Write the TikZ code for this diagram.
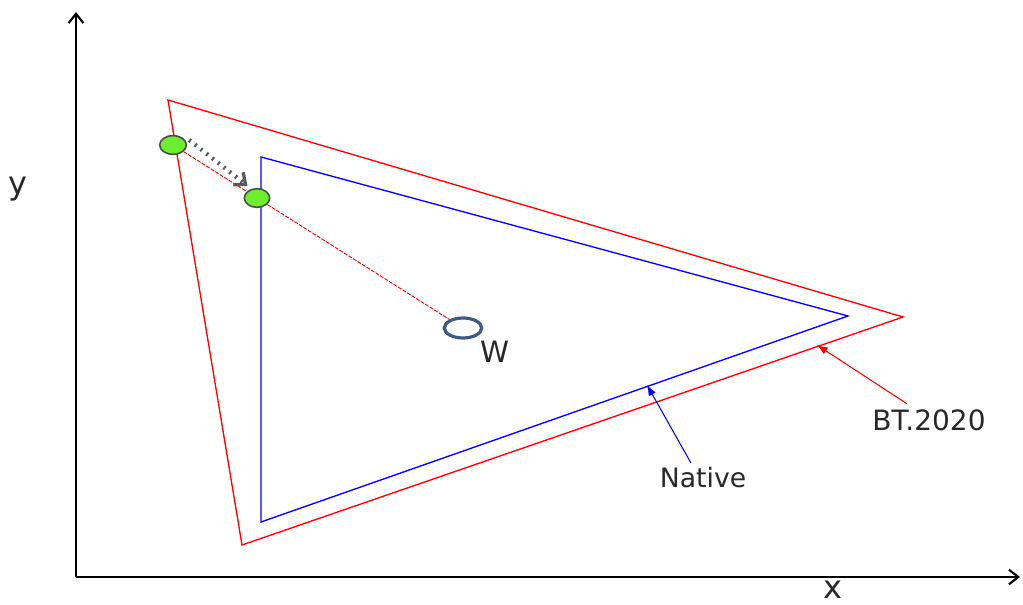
\documentclass[tikz,border=0pt]{standalone}
\usepackage{fontspec}
\setmainfont{DejaVu Sans}
\usetikzlibrary{arrows.meta}
\definecolor{dotgreen}{RGB}{108,238,46}
\definecolor{wblue}{RGB}{60,90,130}
\definecolor{labelgray}{RGB}{40,40,40}
\tikzset{
    axis/.style={line width=2.2pt, -{Straight Barb[length=7pt,width=11pt,line width=1.6pt]}},
    gamutred/.style={red, line width=1pt},
    gamutblue/.style={blue, line width=1pt},
    primdot/.style={ellipse, draw=gray!60!black, line width=1.2pt, fill=dotgreen, minimum width=20pt, minimum height=14pt, inner sep=0pt},
    lbl/.style={text=labelgray, font=\fontsize{20}{23}\selectfont, inner sep=1pt},
    pointer/.style={line width=0.8pt, -{Latex[length=8pt,width=6pt]}}
}
\usetikzlibrary{shapes.geometric}
\begin{document}
\begin{tikzpicture}[x=0.75pt, y=-0.75pt]
    \useasboundingbox (0,0) rectangle (1023,605);
    % Axes
    \coordinate (o) at (76,577);
    \draw[axis] (o) -- (76,12);
    \draw[axis] (o) -- (1020,577);
    \node[lbl, font=\fontsize{24}{27}\selectfont] (ylab) at (18,189) {y};
    \node[lbl, font=\fontsize{24}{27}\selectfont] (xlab) at (833,590) {x};

    % BT.2020 gamut
    \coordinate (rR) at (903,317);
    \coordinate (rG) at (168,100);
    \coordinate (rB) at (242,545);
    \draw[gamutred] (rG) -- (rR) -- (rB) -- cycle;

    % Native gamut
    \coordinate (nR) at (848,316);
    \coordinate (nG) at (261,157);
    \coordinate (nB) at (261,522);
    \draw[gamutblue] (nG) -- (nR) -- (nB) -- cycle;

    % White point and mapping
    \node[ellipse, draw=wblue, line width=2.4pt, minimum width=28pt, minimum height=15pt, inner sep=0pt] (wp) at (463,328) {};
    \node[lbl, font=\fontsize{22}{25}\selectfont] (wlab) at (495,352) {W};
    \node[primdot] (src) at (173,145) {};
    \node[primdot, minimum width=19pt] (dst) at (257,198) {};
    \draw[red, dash pattern=on 3pt off 1pt, line width=0.7pt] (src) -- (dst) -- (wp);
    \draw[gray!70!black, line width=3.2pt, dash pattern=on 1.5pt off 4pt,
          -{Straight Barb[length=7pt,width=12pt,line width=2.4pt]}]
          ([shift={(2,-5)}]src.east) -- ([shift={(0,-5)}]dst.north west);

    % Labels
    \node[lbl] (native) at (703,478) {Native};
    \node[lbl, font=\fontsize{21}{24}\selectfont] (bt) at (929,420) {BT.2020};
    \coordinate (nhit) at (647,385);
    \coordinate (bhit) at (817,345);
    \draw[pointer, blue] (native.north) ++(-12,-3) -- (nhit);
    \draw[pointer, red] (bt.north) ++(-22,-4) -- (bhit);
\end{tikzpicture}
\end{document}
